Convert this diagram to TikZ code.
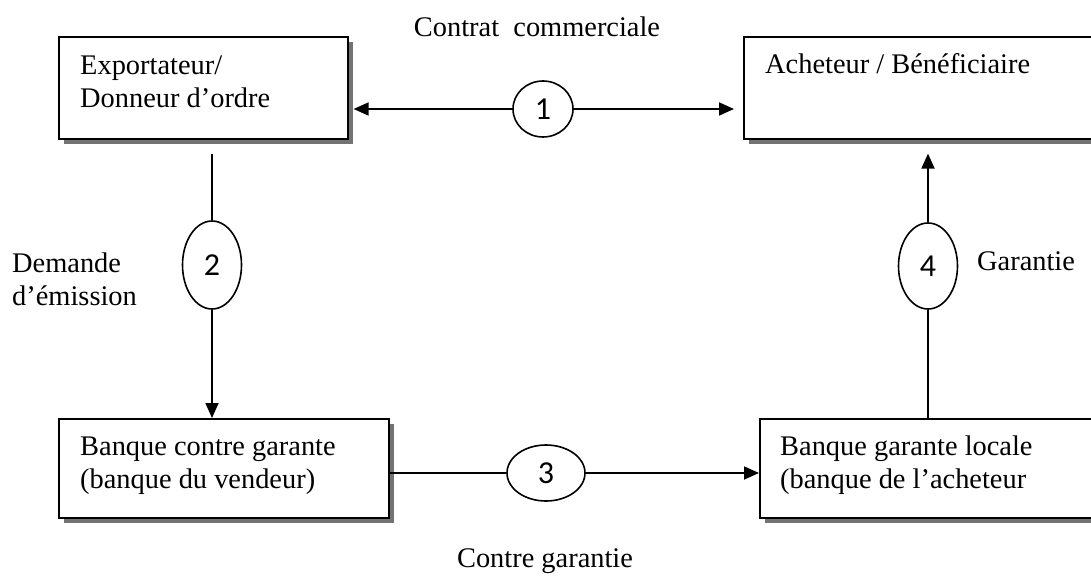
\documentclass[tikz,border=0pt]{standalone}
\usepackage{fontspec}
\setmainfont{Liberation Serif}
\newfontfamily\numfont{Carlito}
\usetikzlibrary{shapes.geometric,shadows,arrows.meta}
\begin{document}
\begin{tikzpicture}[x=1pt,y=-1pt,
  box/.style={draw,line width=1.6pt,fill=white,anchor=north west,inner sep=0pt,
    drop shadow={shadow xshift=5pt,shadow yshift=-5pt,fill=black!55,opacity=1}},
  txt/.style={anchor=base west,inner sep=0pt,font=\fontsize{28.4}{33}\selectfont},
  lbl/.style={inner sep=0pt,font=\fontsize{28.4}{33}\selectfont},
  num/.style={draw,ellipse,line width=1.6pt,fill=white,inner sep=0pt,font=\numfont\fontsize{32}{34}\selectfont},
  conn/.style={line width=1.8pt},
  arr/.style={line width=1.8pt,-{Triangle[length=15pt,width=13pt]}}]
\useasboundingbox (0,0) rectangle (1091,580);
% boxes
\node[box,minimum width=289pt,minimum height=102pt] (b1) at (58,36) {};
\node[box,minimum width=370pt,minimum height=102pt] (b2) at (743,36) {};
\node[box,minimum width=330pt,minimum height=99pt] (b3) at (58,418) {};
\node[box,minimum width=350pt,minimum height=99pt] (b4) at (759,418) {};
\node[txt] (t1a) at (80,75) {Exportateur/};
\node[txt] (t1b) at (80,108) {Donneur d’ordre};
\node[txt] (t2) at (765,74) {Acheteur / Bénéficiaire};
\node[txt] (t3a) at (80,455) {Banque contre garante};
\node[txt] (t3b) at (80,488) {(banque du vendeur)};
\node[txt] (t4a) at (780,455) {Banque garante locale};
\node[txt] (t4b) at (780,488) {(banque de l’acheteur};
% numbered ellipses
\node[num,minimum width=60pt,minimum height=56pt] (e1) at (543,109) {1};
\node[num,minimum width=59pt,minimum height=88pt] (e2) at (212,265) {2};
\node[num,minimum width=78pt,minimum height=56pt] (e3) at (546,473) {3};
\node[num,minimum width=59pt,minimum height=86pt] (e4) at (928,266) {4};
% connectors
\draw[arr,shorten >=5pt] (e1.west) -- (e1.west -| b1.east);
\draw[arr,shorten >=9pt] (e1.east) -- (e1.east -| b2.west);
\draw[conn,shorten <=14pt] (e2.north |- b1.south) -- (e2.north);
\draw[arr] (e2.south) -- (e2.south |- b3.north);
\draw[conn] (e3.west -| b3.east) -- (e3.west);
\draw[arr] (e3.east) -- (e3.east -| b4.west);
\draw[conn] (e4.south |- b4.north) -- (e4.south);
\draw[arr,shorten >=14pt] (e4.north) -- (e4.north |- b2.south);
% labels
\node[lbl] (l1) at (537,27) {Contrat\ \ commerciale};
\node[txt] (l2a) at (12,272) {Demande};
\node[txt] (l2b) at (12,305) {d’émission};
\node[txt] (l4) at (977,270) {Garantie};
\node[lbl] (l3) at (545,561) {Contre garantie};
\end{tikzpicture}
\end{document}
